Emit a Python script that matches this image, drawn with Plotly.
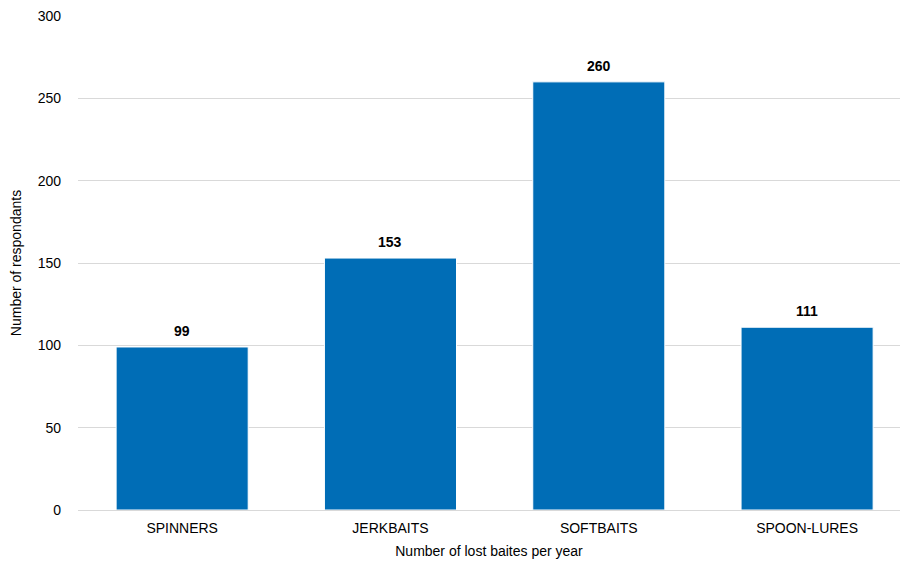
import plotly.graph_objects as go

categories = ["SPINNERS", "JERKBAITS", "SOFTBAITS", "SPOON-LURES"]
values = [99, 153, 260, 111]
y_ticks = [0, 50, 100, 150, 200, 250, 300]

FONT = "Liberation Sans, Arial"
fig = go.Figure(go.Bar(
    x=list(range(len(categories))), y=values,
    marker=dict(color="#006DB6", line=dict(color="white", width=1)),
))
for i, v in enumerate(values):
    fig.add_annotation(x=i, y=v, text=f"<b>{v}</b>", showarrow=False, yanchor="bottom", yshift=6,
                       font=dict(family=FONT, size=14, color="black"))
fig.update_layout(
    width=900, height=564,
    margin=dict(l=78, r=0, t=16, b=54),
    plot_bgcolor="white", paper_bgcolor="white",
    bargap=0.366,
    font=dict(family=FONT, size=14, color="black"),
    showlegend=False,
    xaxis=dict(title=dict(text="Number of lost baites per year", font=dict(size=14), standoff=11),
               tickvals=list(range(len(categories))), ticktext=categories,
               range=[-0.5, 3.446], showgrid=False, showline=False, ticks="",
               tickfont=dict(size=14), ticklabelstandoff=8),
    yaxis=dict(title=dict(text="Number of respondants", font=dict(size=14), standoff=12),
               range=[0, 300], tickvals=y_ticks, showgrid=True, gridcolor="#D9D9D9", gridwidth=1,
               zeroline=True, zerolinecolor="#D9D9D9", zerolinewidth=1, ticks="",
               tickfont=dict(size=14), ticklabelstandoff=16),
)
fig.write_html("out.html")
